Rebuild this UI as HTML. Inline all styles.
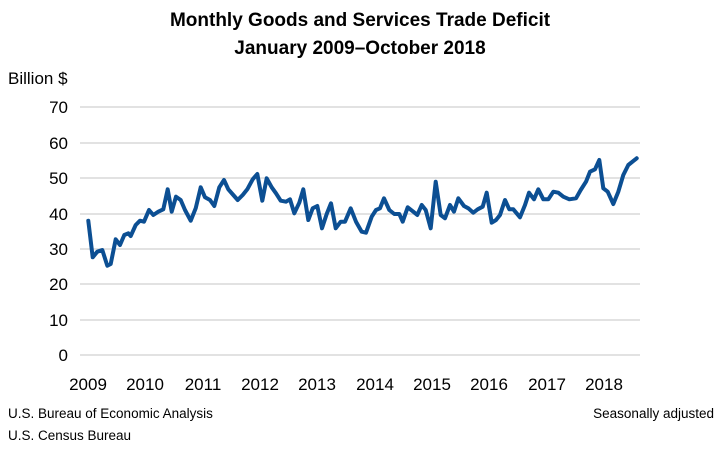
<!DOCTYPE html>
<html><head><style>
body{margin:0;background:#fff;}
svg text{font-family:"Liberation Sans",sans-serif;}
</style></head><body>
<svg width="720" height="444" xmlns="http://www.w3.org/2000/svg">
<rect width="720" height="444" fill="#fff"/>
<text x="360" y="26" text-anchor="middle" font-size="19" font-weight="bold" fill="#000">Monthly Goods and Services Trade Deficit</text>
<text x="360" y="54" text-anchor="middle" font-size="19" font-weight="bold" fill="#000">January 2009–October 2018</text>
<text x="8" y="84" font-size="17" fill="#000">Billion $</text>
<g stroke="#d9d9d9" stroke-width="1.5">
<line x1="80" y1="107" x2="640" y2="107"/>
<line x1="80" y1="143" x2="640" y2="143"/>
<line x1="80" y1="178" x2="640" y2="178"/>
<line x1="80" y1="214" x2="640" y2="214"/>
<line x1="80" y1="249" x2="640" y2="249"/>
<line x1="80" y1="284" x2="640" y2="284"/>
<line x1="80" y1="320" x2="640" y2="320"/>
<line x1="80" y1="355" x2="640" y2="355"/>
</g>
<g font-size="17" fill="#000" text-anchor="end">
<text x="68" y="113">70</text><text x="68" y="149">60</text><text x="68" y="184">50</text><text x="68" y="220">40</text><text x="68" y="255">30</text><text x="68" y="290">20</text><text x="68" y="326">10</text><text x="68" y="361">0</text>
</g>
<g font-size="17" fill="#000" text-anchor="middle">
<text x="88" y="390">2009</text><text x="145" y="390">2010</text><text x="203" y="390">2011</text><text x="260" y="390">2012</text><text x="317" y="390">2013</text><text x="375" y="390">2014</text><text x="432" y="390">2015</text><text x="489" y="390">2016</text><text x="547" y="390">2017</text><text x="604" y="390">2018</text>
</g>
<polyline fill="none" stroke="#0c4f93" stroke-width="4" stroke-linejoin="round" stroke-linecap="round" points="88.3,220.7 92.7,257.3 97.3,251.7 102.3,250 107.3,265.7 110.7,264 115.7,239.3 120,245 124.3,235 128.3,233.3 130.7,236 135.7,225 140,220.7 144,221.7 149,210 153.3,215 158.3,211.7 163.3,209.3 167.7,189.3 171.7,211.7 176,196.7 180.7,200 185,210 190.7,220.7 195.7,208.3 200.7,187.3 205,197.3 210,200 214.3,206 219.3,187.3 224,180 228.3,189.3 233.3,195 237.7,200 242.7,195 247.3,189.3 252.7,179.3 257.3,174 262.3,200.7 266.7,178.3 271.7,187.3 276,193.3 280.7,200.7 286,201.7 290,199.3 294.3,213.3 299.3,202.7 303.3,189.3 308.3,220 312.7,208.3 317.3,206 322,228.3 326.7,214 331,203.3 335.7,228.3 340.7,221.7 345,221.7 350.7,208.3 356,221.7 361.7,231.7 366,232.7 371.7,216.7 376,210 380,208.3 384,198.3 389.3,210 394.3,214 399.3,214 402.7,221.7 407.7,207.3 413.3,211.7 417.3,215 421.7,205 425.7,210 430.7,228.3 435.7,181.7 440.7,215 445,218.3 450,205 454,211.7 458.3,198.3 464,206 468.3,208.3 473.3,212.7 477.7,209.3 482.7,206.7 486.7,192.7 491.7,222.7 496,220 500,215 505,200 509.3,209.3 513.3,209.3 520,217.3 525,205 529,192.7 534,199.3 538.3,189.3 543.3,199.3 548.3,199.3 553.3,191.7 558.3,192.7 563.3,196.7 569.3,199.3 576,198.3 580.7,190 586,181.7 590,171.7 595,169.3 599.3,160 603.3,188.3 607.7,191.7 613.3,204 618.3,191.7 623.3,175 628.3,165 636.7,158.3"/>
<text x="8" y="418" font-size="13.5" fill="#000">U.S. Bureau of Economic Analysis</text>
<text x="8" y="440" font-size="13.5" fill="#000">U.S. Census Bureau</text>
<text x="714" y="418" font-size="13.5" fill="#000" text-anchor="end">Seasonally adjusted</text>
</svg>
</body></html>
